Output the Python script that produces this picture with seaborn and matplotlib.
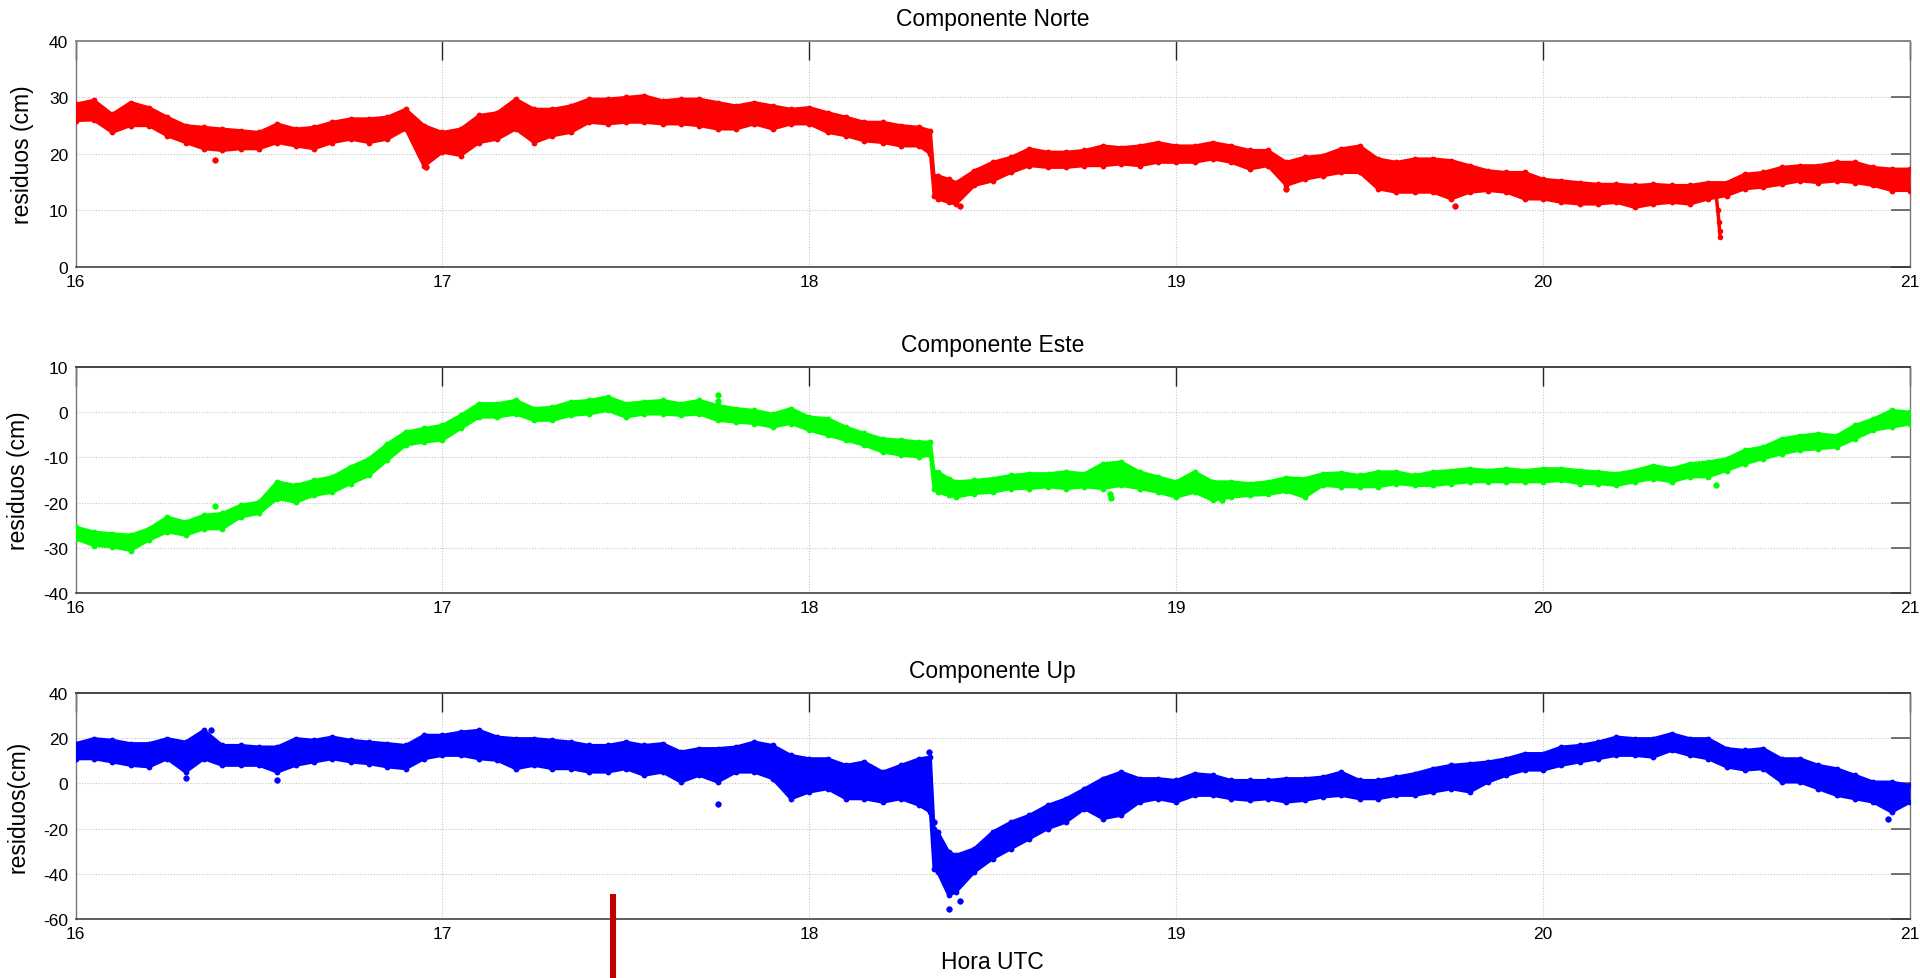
import numpy as np
import pandas as pd
import matplotlib
matplotlib.use("Agg")
import matplotlib.pyplot as plt
import seaborn as sns

# ---------------- data ----------------
# sampling times (UTC hours)
hora = np.round(np.concatenate([np.arange(16.0, 18.301, 0.05),
                                [18.33, 18.34, 18.35, 18.38],
                                np.arange(18.40, 21.001, 0.05)]), 2)

norte_hi = [28.8, 29.5, 27.0, 29.1, 28.2, 26.5, 25.0, 24.7, 24.4, 24.1, 23.8, 25.3, 24.4, 24.7, 25.6, 26.2, 26.2, 26.5, 27.9, 25.0,
            23.8, 24.4, 26.8, 27.3, 29.7, 27.9, 27.9, 28.5, 29.7, 29.7, 30.0, 30.3, 29.4, 29.7, 29.7, 29.1, 28.5, 29.1, 28.5, 27.9,
            28.2, 27.3, 26.5, 25.6, 25.6, 25.0, 24.7,
            24.1, 16.1, 16.1, 15.5,
            14.9, 17.0, 18.5, 19.4, 20.9, 20.3, 20.3, 20.6, 21.4, 21.1, 21.4, 22.0,
            21.4, 21.4, 22.0, 21.4, 20.6, 20.6, 18.5, 19.4, 19.7, 20.9, 21.4, 19.1, 18.5, 19.1, 19.1, 18.8, 17.9, 17.0, 16.7, 16.7,
            15.5, 15.2, 14.9, 14.6, 14.6, 14.4, 14.6, 14.4, 14.4, 14.9, 14.9, 16.4, 16.7, 17.6, 17.9, 17.9, 18.5, 18.5, 17.6, 17.3,
            17.3]
norte_lo = [25.9, 26.0, 23.8, 25.0, 25.0, 23.2, 22.0, 20.9, 20.6, 20.9, 20.9, 22.0, 21.4, 20.9, 22.0, 22.6, 22.0, 22.6, 24.4, 17.8,
            20.3, 19.7, 22.0, 22.6, 24.4, 22.0, 23.2, 23.8, 25.6, 25.3, 25.6, 25.6, 25.3, 25.3, 25.0, 24.4, 24.4, 25.3, 24.4, 25.3,
            25.3, 23.8, 23.2, 22.3, 22.0, 21.4, 21.4,
            20.0, 12.5, 12.0, 11.4,
            11.1, 14.4, 15.2, 16.7, 17.9, 17.6, 17.6, 17.9, 17.9, 18.2, 17.9, 18.5,
            18.5, 18.5, 19.1, 18.5, 17.3, 17.9, 14.4, 15.5, 16.1, 16.7, 16.7, 13.8, 13.2, 13.2, 13.2, 12.0, 13.2, 13.5, 13.2, 12.0,
            12.0, 11.4, 11.1, 11.1, 11.4, 10.5, 11.1, 11.4, 11.1, 12.0, 12.6, 13.8, 14.1, 14.6, 15.2, 14.9, 15.2, 14.9, 14.4, 13.5,
            13.5]
norte_out_t = [16.38, 16.955, 18.41, 19.76, 19.30]
norte_out_v = [18.9, 17.6, 10.8, 10.8, 13.8]
# short drop near 20.48 h
norte_caida_t = [20.472, 20.476, 20.479, 20.481, 20.483]
norte_caida_v = [12.5, 10.0, 8.0, 6.3, 5.2]

este_hi = [-25.4, -26.5, -26.9, -27.2, -25.8, -23.2, -24.3, -22.8, -22.4, -20.6, -19.9, -15.4, -16.2, -15.1, -14.3, -12.1, -10.3, -7.0, -4.4, -3.6,
           -2.9, -0.7, 1.9, 1.9, 2.6, 0.8, 1.1, 2.3, 2.6, 3.4, 1.9, 2.3, 2.6, 1.9, 2.6, 1.5, 0.8, 0.4, -0.4, 0.8,
           -1.1, -1.4, -3.3, -4.7, -5.9, -6.2, -6.6,
           -6.6, -13.2, -13.2, -14.7,
           -15.4, -15.1, -14.7, -14.0, -13.6, -13.6, -13.2, -13.6, -11.4, -11.0, -13.2, -14.3,
           -15.4, -13.2, -15.4, -15.4, -15.8, -15.4, -14.5, -14.7, -13.6, -13.4, -14.0, -13.2, -13.2, -14.0, -13.2, -12.9, -12.5, -12.9, -12.5, -12.9,
           -12.5, -12.5, -12.9, -13.2, -13.6, -12.9, -11.8, -12.5, -11.4, -11.0, -10.3, -8.4, -7.7, -5.9, -5.2, -4.8, -5.2, -2.9, -1.5, 0.4,
           0.0]
este_lo = [-28.0, -29.5, -29.8, -30.6, -28.3, -26.5, -27.2, -25.8, -25.8, -23.2, -22.4, -19.1, -19.9, -18.4, -17.7, -15.8, -14.0, -10.6, -7.3, -6.6,
           -6.2, -3.6, -1.1, -1.1, -0.4, -1.8, -1.8, -0.7, -0.4, 0.4, -1.1, -0.4, -0.4, -0.7, -0.4, -1.8, -2.2, -2.5, -3.3, -2.5,
           -4.0, -5.1, -6.2, -7.3, -8.8, -9.5, -9.9,
           -9.5, -17.0, -17.7, -18.4,
           -18.8, -18.0, -17.7, -16.9, -16.9, -16.5, -16.9, -16.5, -16.9, -16.2, -16.9, -17.7,
           -18.8, -17.7, -19.5, -18.8, -18.4, -18.2, -17.5, -18.8, -16.2, -16.5, -16.5, -16.5, -15.8, -16.2, -16.2, -15.8, -15.4, -15.4, -15.4, -15.4,
           -15.4, -15.1, -15.8, -15.8, -16.2, -15.4, -14.7, -15.4, -14.3, -14.3, -12.9, -11.4, -10.3, -9.2, -8.4, -8.1, -7.7, -5.9, -4.0, -3.3,
           -2.6]
este_out_t = [16.38, 17.75, 17.75, 18.82, 18.822, 19.125, 20.47]
este_out_v = [-20.8, 3.9, 2.5, -18.0, -19.0, -19.5, -16.2]

up_hi = [17.6, 19.8, 19.1, 17.6, 17.6, 19.8, 18.3, 23.5, 16.8, 16.8, 16.1, 16.1, 19.8, 19.1, 20.5, 19.1, 18.3, 17.6, 16.8, 21.3,
         21.3, 22.7, 23.5, 20.5, 19.8, 19.8, 19.1, 18.3, 16.8, 16.8, 18.3, 16.8, 17.6, 13.9, 15.4, 15.4, 16.1, 18.3, 16.8, 12.4,
         10.9, 10.9, 8.0, 9.5, 5.0, 8.0, 10.9,
         11.6, -20.0, -21.5, -30.4,
         -31.8, -28.9, -21.5, -17.1, -14.1, -9.7, -6.8, -2.4, 2.1, 5.0, 2.1, 2.1,
         1.3, 4.3, 3.6, 1.3, 1.3, 1.3, 2.1, 2.1, 2.8, 5.0, 1.3, 1.3, 2.8, 4.3, 6.5, 8.0, 8.7, 9.5, 10.9, 13.2,
         13.2, 16.1, 16.8, 18.3, 20.5, 19.8, 19.8, 22.0, 19.8, 19.8, 15.4, 14.6, 15.4, 10.9, 10.9, 8.0, 6.5, 3.6, 0.6, 0.6,
         -0.9]
up_lo = [10.9, 10.9, 9.5, 8.0, 7.3, 10.9, 5.0, 10.9, 8.0, 8.0, 8.0, 5.0, 8.0, 9.5, 10.9, 9.5, 8.7, 7.3, 6.5, 10.9,
         12.4, 12.4, 10.9, 10.2, 6.5, 8.0, 6.5, 6.5, 5.0, 5.0, 6.5, 3.6, 5.0, 0.6, 3.6, 0.6, 5.0, 5.0, 2.1, -6.8,
         -3.8, -2.4, -6.8, -6.8, -8.3, -6.8, -9.7,
         -12.7, -38.0, -39.2, -49.5,
         -48.0, -39.2, -33.3, -28.9, -24.5, -20.0, -17.1, -11.2, -15.6, -14.1, -8.3, -6.8,
         -8.3, -5.3, -5.3, -6.8, -7.5, -6.8, -8.3, -7.5, -6.0, -5.3, -6.8, -6.8, -5.3, -5.3, -3.8, -2.4, -3.8, 0.6, 3.6, 5.9,
         5.9, 8.0, 9.5, 10.9, 12.4, 12.4, 11.6, 14.6, 12.4, 10.9, 7.3, 5.9, 6.5, 0.6, 0.6, -2.4, -5.3, -6.8, -8.3, -12.7,
         -8.3]
up_out_t = [16.30, 16.37, 16.55, 17.75, 18.38, 18.41, 20.94, 18.34, 18.325]
up_out_v = [2.4, 23.5, 1.4, -9.0, -55.7, -52.0, -15.6, -17.0, 14.0]

titulos = ["Componente Norte", "Componente Este", "Componente Up"]
etiquetas_y = ["residuos (cm)", "residuos (cm)", "residuos(cm)"]
x_ticks = [16, 17, 18, 19, 20, 21]
y_ticks = [[0, 10, 20, 30, 40], [-40, -30, -20, -10, 0, 10], [-60, -40, -20, 0, 20, 40]]
marca_hora = 17.465   # red marker below last panel
marca_top = -49.0

# ---------------- style ----------------
sns.set_theme(style="white")
plt.rcParams['font.family'] = ['Liberation Sans', 'DejaVu Sans']

fig = plt.figure(figsize=(19.2, 9.79), dpi=100)

left, width = 75.5 / 1920, (1910 - 75.5) / 1920
positions = [
    [left, 1 - 267.7 / 979, width, 225.7 / 979],
    [left, 1 - 594.0 / 979, width, 226.0 / 979],
    [left, 1 - 920.0 / 979, width, 226.0 / 979],
]
series = [
    (norte_hi, norte_lo, norte_out_t, norte_out_v, "#ff0000"),
    (este_hi, este_lo, este_out_t, este_out_v, "#00ff00"),
    (up_hi, up_lo, up_out_t, up_out_v, "#0000ff"),
]
ylabel_x = [(33.5 - 75.5) / 1834.5, (30 - 75.5) / 1834.5, (30 - 75.5) / 1834.5]

axes = []
for i, (pos, (hi, lo, ot, ov, col)) in enumerate(zip(positions, series)):
    ax = fig.add_axes(pos)
    axes.append(ax)
    ax.fill_between(hora, lo, hi, color=col, lw=0, zorder=3)
    df = pd.DataFrame({"hora": hora, "hi": hi, "lo": lo})
    for key in ("hi", "lo"):
        sns.lineplot(data=df, x="hora", y=key, ax=ax, color=col, lw=2.2,
                     marker='o', markersize=4.2, markeredgewidth=0, markeredgecolor=col,
                     estimator=None, sort=False, zorder=3)
    sns.scatterplot(x=ot, y=ov, ax=ax, color=col, s=16, edgecolor=col,
                    linewidth=0.5, zorder=4)
    ax.set_xlim(16, 21)
    ax.set_ylim(y_ticks[i][0], y_ticks[i][-1])
    ax.set_xticks(x_ticks)
    ax.set_yticks(y_ticks[i])
    ax.set_xticklabels([str(v) for v in x_ticks])
    ax.set_yticklabels([str(v) for v in y_ticks[i]])
    ax.grid(True, ls=(0, (1, 1.5)), color='#c4c4c4', lw=0.8, zorder=0)
    ax.set_axisbelow(True)
    ax.tick_params(axis='x', direction='in', length=13.5, width=1.0, top=True,
                   labelsize=12.5, pad=5.2, color='#262626', labelcolor='black')
    ax.tick_params(axis='y', direction='in', length=13.5, width=1.4, right=True,
                   labelsize=12.5, pad=5.2, color='#707070', labelcolor='black')
    for name, sp in ax.spines.items():
        sp.set_visible(True)
        if name == 'bottom':
            sp.set_color('#333333'); sp.set_linewidth(1.1)
        elif name == 'top':
            sp.set_color('#8a8a8a' if i == 0 else '#444444'); sp.set_linewidth(1.4)
        else:
            sp.set_color('#777777'); sp.set_linewidth(1.0)
    ax.set_title(titulos[i], fontsize=16.5, pad=11.5, color='black')
    ax.set_ylabel(etiquetas_y[i], fontsize=16.5, color='black')
    ax.yaxis.set_label_coords(ylabel_x[i], 0.5)
    ax.set_xlabel("")

sns.lineplot(x=norte_caida_t, y=norte_caida_v, ax=axes[0], color="#ff0000", lw=2.5,
             marker='o', markersize=4, markeredgewidth=0, estimator=None, sort=False, zorder=4)

axes[2].set_xlabel("Hora UTC", fontsize=16.5, color='black')
axes[2].xaxis.set_label_coords(0.5, (920 - 951) / 226)
axes[2].plot([marca_hora, marca_hora], [marca_top, -90], color='#c00000', lw=4.4,
             solid_capstyle='butt', clip_on=False, zorder=5)

fig.savefig("out.png", dpi=100)
